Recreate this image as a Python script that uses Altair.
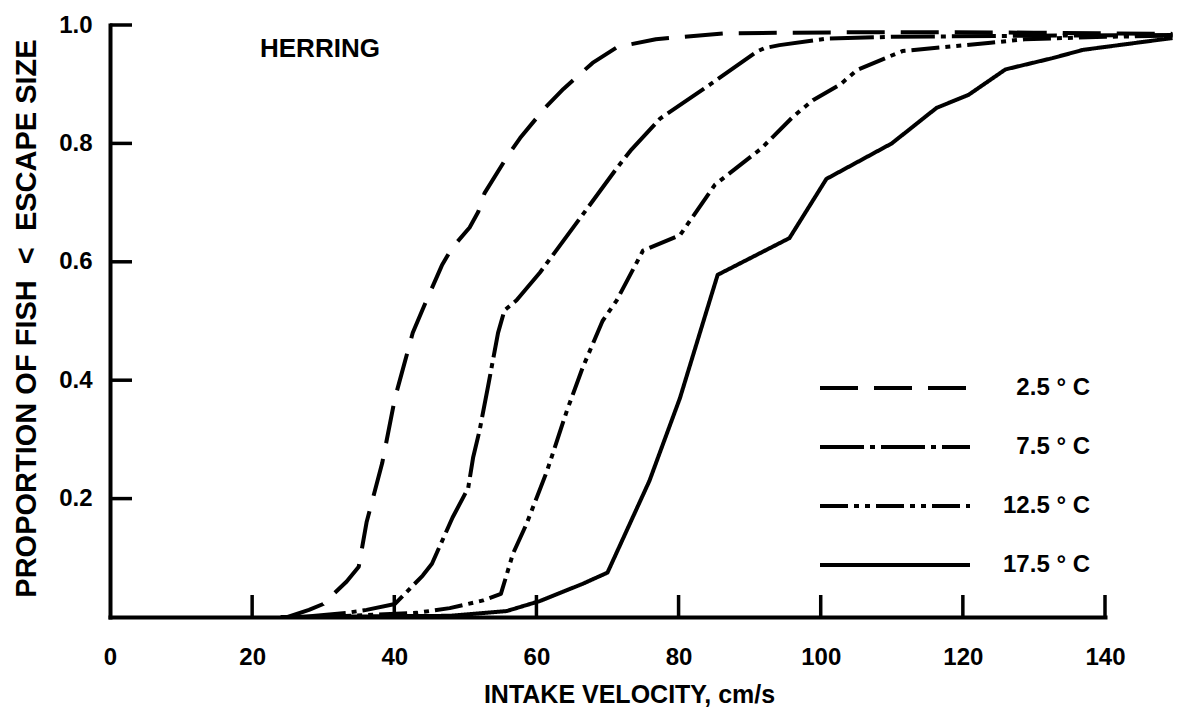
import altair as alt
import pandas as pd

# Proportion of herring below escape size vs. intake velocity (cm/s), one curve per water temperature
v_25 = [25, 28, 30, 33.3, 35, 36.1, 38.3, 40.1, 42.6, 44, 46.7, 48.1, 50.6, 51.8, 52.7,
        56, 57.7, 61.2, 63.8, 67.9, 71.4, 76.8, 80.6, 86.5, 95, 110, 130, 149.5]
p_25 = [0, 0.012, 0.022, 0.06, 0.085, 0.16, 0.26, 0.37, 0.48, 0.52, 0.594, 0.623, 0.658, 0.684, 0.716,
        0.78, 0.809, 0.86, 0.892, 0.936, 0.963, 0.976, 0.98, 0.986, 0.987, 0.988, 0.987, 0.985]

v_75 = [27, 33.3, 36.1, 40.1, 44, 45.3, 48.2, 50.4, 51.1, 52, 53.2, 54.6, 55.5, 57.2, 60.5,
        66.1, 71.3, 73.4, 77.4, 84.5, 91, 92.1, 94.2, 100.8, 110, 130, 149.5]
p_75 = [0, 0.007, 0.012, 0.022, 0.07, 0.09, 0.168, 0.218, 0.27, 0.315, 0.39, 0.48, 0.518, 0.535, 0.582,
        0.673, 0.758, 0.79, 0.842, 0.9, 0.955, 0.961, 0.966, 0.977, 0.98, 0.982, 0.983]

v_125 = [30, 43.2, 47.8, 52.5, 55, 56.7, 58.6, 61.5, 64.3, 66.5, 69.3, 71.3, 75, 80.2, 85.1,
         91.6, 96.1, 98.9, 102.8, 105.1, 111.5, 123.9, 128.7, 140, 149.5]
p_125 = [0, 0.007, 0.015, 0.028, 0.039, 0.107, 0.157, 0.247, 0.349, 0.421, 0.5, 0.535, 0.619, 0.645, 0.73,
         0.791, 0.845, 0.873, 0.9, 0.924, 0.956, 0.97, 0.976, 0.98, 0.982]

v_175 = [24, 47.8, 55.8, 60.5, 66.5, 68.9, 70, 75.9, 80.2, 84.4, 85.5, 95.6, 100.8, 110,
         116.3, 120.8, 126, 132.6, 136.9, 149.5]
p_175 = [0, 0.002, 0.01, 0.027, 0.056, 0.069, 0.075, 0.23, 0.37, 0.535, 0.578, 0.64, 0.74, 0.8,
         0.86, 0.882, 0.925, 0.944, 0.958, 0.978]

temps = ["2.5 \u00b0 C", "7.5 \u00b0 C", "12.5 \u00b0 C", "17.5 \u00b0 C"]
dash_styles = [[38, 16], [44, 6, 5, 6], [28, 6, 5, 6, 5, 6], [1, 0]]

x_label_values = [0, 20, 40, 60, 80, 100, 120, 140]
x_tick_values = [20, 40, 60, 80, 100, 120, 140]
y_tick_values = [0.2, 0.4, 0.6, 0.8, 1.0]

rows = []
for temp, xs, ys in zip(temps, [v_25, v_75, v_125, v_175], [p_25, p_75, p_125, p_175]):
    for x, y in zip(xs, ys):
        rows.append({"temp": temp, "velocity": x, "proportion": y})
curves = pd.DataFrame(rows)

FONT = "Liberation Sans"
W, H = 995, 592

x_scale = alt.Scale(domain=[0, 140], nice=False, zero=False)
y_scale = alt.Scale(domain=[0, 1], nice=False)

x_axis = alt.Axis(
    values=x_label_values, format="d", labelFlush=False, ticks=False, grid=False,
    domainColor="black", domainWidth=4, domainCap="square",
    labelFont=FONT, labelFontSize=24, labelFontWeight="bold", labelColor="black",
    labelPadding=28,
    title="INTAKE VELOCITY, cm/s", titleFont=FONT, titleFontSize=25,
    titleFontWeight="bold", titleColor="black", titleX=519, titleY=85,
    titleAlign="center", titleBaseline="alphabetic")

y_axis = alt.Axis(
    values=y_tick_values, format=".1f", ticks=False, grid=False,
    domainColor="black", domainWidth=4, domainCap="square",
    labelFont=FONT, labelFontSize=24, labelFontWeight="bold", labelColor="black",
    labelPadding=18,
    title="PROPORTION OF FISH \u00a0<\u00a0 ESCAPE SIZE", titleFont=FONT,
    titleFontSize=29, titleFontWeight="bold", titleColor="black",
    titleAngle=270, titleX=-75, titleY=293, titleAlign="center",
    titleBaseline="alphabetic")

lines = alt.Chart(curves).mark_line(
    color="black", strokeWidth=4, strokeJoin="round"
).encode(
    x=alt.X("velocity:Q", scale=x_scale, axis=x_axis),
    y=alt.Y("proportion:Q", scale=y_scale, axis=y_axis),
    strokeDash=alt.StrokeDash("temp:N", sort=temps,
        scale=alt.Scale(domain=temps, range=dash_styles),
        legend=alt.Legend(
            title=None, orient="none", legendX=708, legendY=350, padding=0,
            symbolType="stroke", symbolSize=22500, symbolStrokeWidth=4,
            symbolStrokeColor="black", labelFont=FONT, labelFontSize=24,
            labelFontWeight="bold", labelColor="black", labelAlign="right",
            labelOffset=118, labelLimit=0, clipHeight=26, rowPadding=33)),
)

# inward-pointing tick marks on both axes
x_ticks = alt.Chart(pd.DataFrame({"velocity": x_tick_values})).mark_rule(
    color="black", strokeWidth=3.5
).encode(
    x=alt.X("velocity:Q", scale=x_scale, axis=x_axis),
    y=alt.value(H), y2=alt.value(H - 22),
)

y_ticks = alt.Chart(pd.DataFrame({"proportion": y_tick_values})).mark_rule(
    color="black", strokeWidth=3.5
).encode(
    y=alt.Y("proportion:Q", scale=y_scale, axis=y_axis),
    x=alt.value(0), x2=alt.value(22),
)

species = alt.Chart(pd.DataFrame({"t": ["HERRING"]})).mark_text(
    align="left", baseline="alphabetic", font=FONT, fontSize=26,
    fontWeight="bold", color="black"
).encode(text="t:N", x=alt.value(150), y=alt.value(32))

chart = alt.layer(lines, x_ticks, y_ticks, species).properties(
    width=W, height=H,
    autosize=alt.AutoSizeParams(type="none"),
    padding={"left": 110, "top": 25, "right": 78, "bottom": 93},
    background="white",
).configure_view(stroke=None)

chart.save("out.html", embed_options={"renderer": "svg", "actions": False})
